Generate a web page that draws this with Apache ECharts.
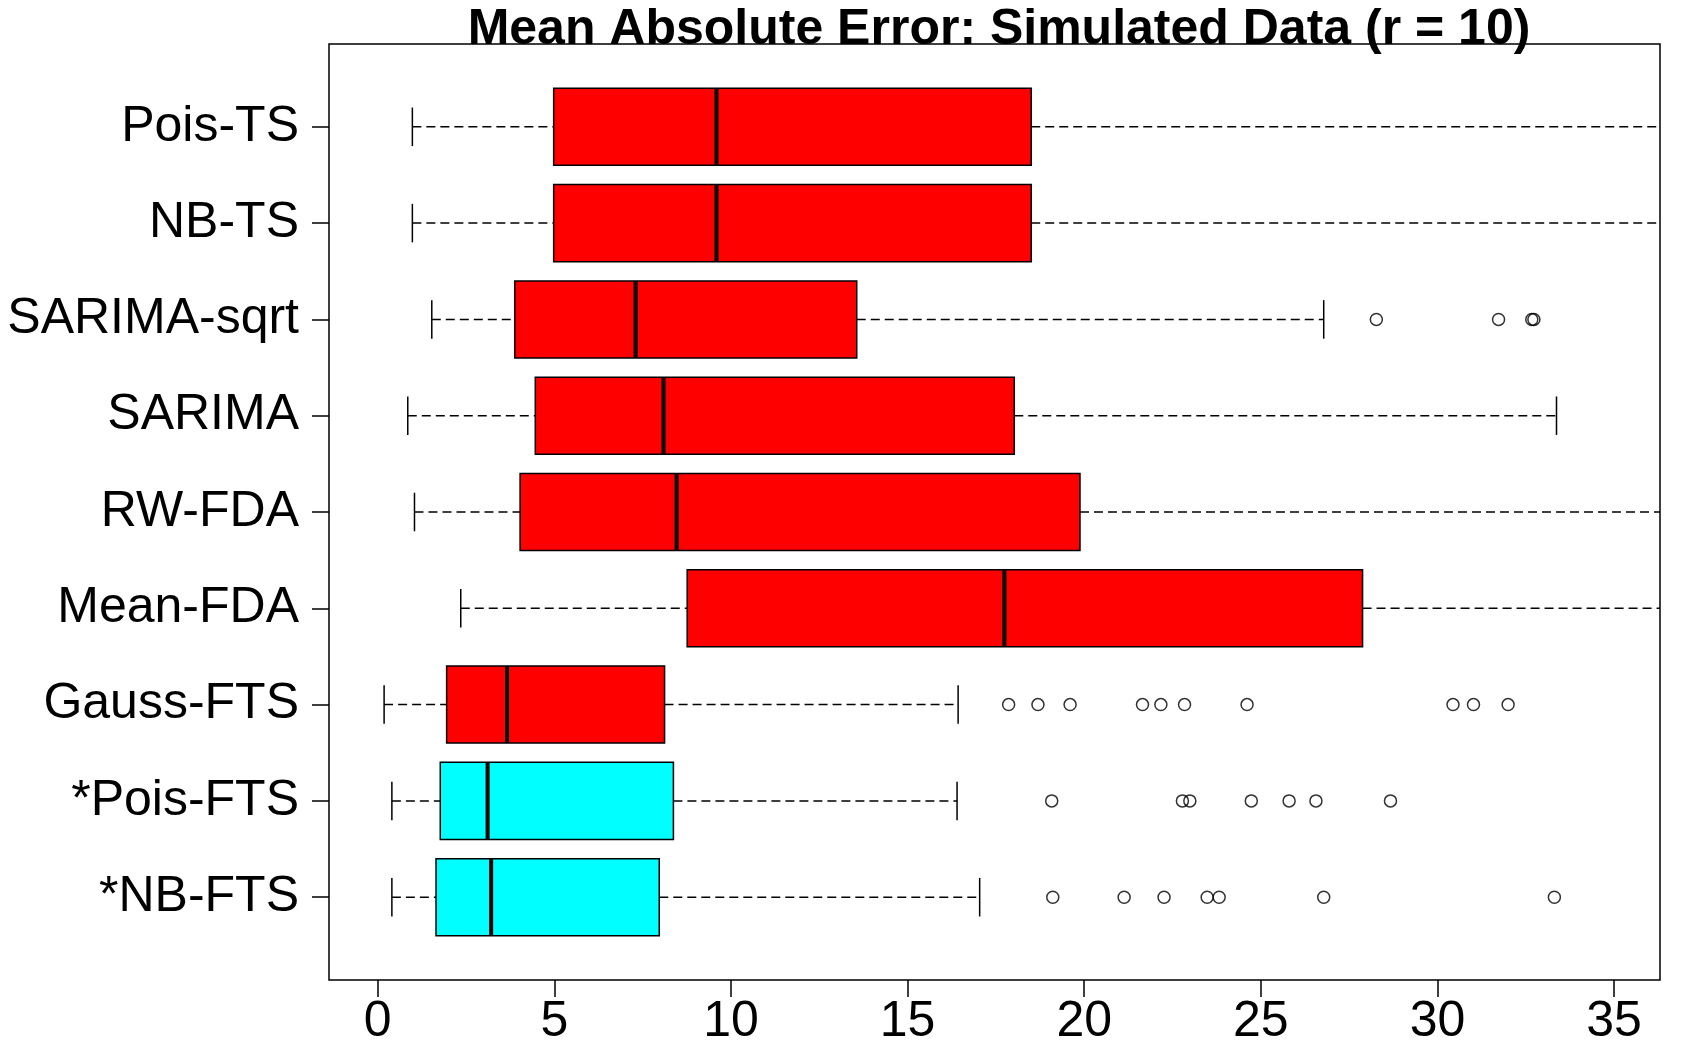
<!DOCTYPE html>
<html>
<head>
<meta charset="utf-8">
<script src="https://cdn.jsdelivr.net/npm/echarts@6/dist/echarts.min.js"></script>
<style>
  html, body { margin: 0; padding: 0; background: #fff; }
  #chart { width: 1692px; height: 1058px; }
</style>
</head>
<body>
<div id="chart"></div>
<script>
  // methods from bottom (position 1) to top (position 9)
  const methods = ['*NB-FTS', '*Pois-FTS', 'Gauss-FTS', 'Mean-FDA', 'RW-FDA', 'SARIMA', 'SARIMA-sqrt', 'NB-TS', 'Pois-TS']
  // [lower whisker, Q1, median, Q3, upper whisker]
  const boxStats = [
    [0.40, 1.65, 3.21, 7.97, 17.04],
    [0.40, 1.77, 3.11, 8.37, 16.40],
    [0.18, 1.95, 3.66, 8.12, 16.43],
    [2.35, 8.76, 17.74, 27.88, 40.0],
    [1.04, 4.03, 8.46, 19.88, 40.0],
    [0.85, 4.46, 8.09, 18.02, 33.37],
    [1.53, 3.88, 7.30, 13.56, 26.78],
    [0.98, 4.98, 9.59, 18.50, 40.0],
    [0.98, 4.98, 9.59, 18.50, 40.0]
  ]
  const outNbFts = [19.11, 21.13, 22.26, 23.48, 23.82, 26.78, 33.31]
  const outPoisFts = [19.08, 22.78, 22.99, 24.73, 25.80, 26.56, 28.67]
  const outGaussFts = [17.86, 18.69, 19.60, 21.65, 22.17, 22.84, 24.61, 30.44, 31.02, 32.00]
  const outSarimaSqrt = [28.27, 31.73, 32.67, 32.73]
  const xTicks = [0, 5, 10, 15, 20, 25, 30, 35]
  const yTicks = [1, 2, 3, 4, 5, 6, 7, 8, 9]

  const outlierData = []
  ;[[1, outNbFts], [2, outPoisFts], [3, outGaussFts], [7, outSarimaSqrt]].forEach(([pos, arr]) => {
    arr.forEach(v => outlierData.push([v, pos]))
  })

  const boxData = boxStats.map((s, i) => [i + 1].concat(s))

  const font = "'Liberation Sans', Arial, sans-serif"
  let myChart = echarts.init(document.getElementById('chart'))
  myChart.setOption({
    animation: false,
    backgroundColor: '#fff',
    title: {
      text: 'Mean Absolute Error: Simulated Data (r = 10)',
      left: 994,
      top: 0,
      textAlign: 'center',
      textStyle: {
        color: '#000',
        fontFamily: font,
        fontWeight: 'bold',
        fontSize: 50
      }
    },
    grid: {
      show: true,
      left: 329,
      right: 32,
      top: 44,
      bottom: 78,
      borderColor: '#000',
      borderWidth: 1.5,
      backgroundColor: 'transparent'
    },
    xAxis: {
      type: 'value',
      min: -1.38,
      max: 36.3,
      splitLine: { show: false },
      axisLine: { show: false, onZero: false },
      axisTick: {
        show: true,
        customValues: xTicks,
        length: 17,
        lineStyle: { color: '#000', width: 1.5 }
      },
      axisLabel: {
        customValues: xTicks,
        margin: 17,
        color: '#000',
        fontFamily: font,
        fontSize: 50
      }
    },
    yAxis: {
      type: 'value',
      min: 0.14,
      max: 9.86,
      splitLine: { show: false },
      axisLine: { show: false, onZero: false },
      axisTick: {
        show: true,
        customValues: yTicks,
        length: 17,
        lineStyle: { color: '#000', width: 1.5 }
      },
      axisLabel: {
        customValues: yTicks,
        margin: 30,
        padding: [6, 0, 0, 0],
        color: '#000',
        fontFamily: font,
        fontSize: 50,
        formatter: function (v) {
          return methods[Math.round(v) - 1]
        }
      }
    },
    series: [{
      type: 'custom',
      clip: true,
      data: boxData,
      encode: { x: [1, 2, 3, 4, 5], y: 0 },
      renderItem: function (params, api) {
        const pos = api.value(0)
        const pLo = api.coord([api.value(1), pos])
        const pQ1 = api.coord([api.value(2), pos])
        const pMed = api.coord([api.value(3), pos])
        const pQ3 = api.coord([api.value(4), pos])
        const pHi = api.coord([api.value(5), pos])
        const h = api.size([0, 0.8])[1]
        const y = pLo[1]
        const color = methods[params.dataIndex].charAt(0) === '*' ? '#00FFFF' : '#FF0000'
        const dash = { stroke: '#000', lineWidth: 1.5, lineDash: [9, 5] }
        const solid = { stroke: '#000', lineWidth: 1.5 }
        return {
          type: 'group',
          children: [
            { type: 'line', shape: { x1: pLo[0], y1: y, x2: pQ1[0], y2: y }, style: dash },
            { type: 'line', shape: { x1: pQ3[0], y1: y, x2: pHi[0], y2: y }, style: dash },
            { type: 'line', shape: { x1: pLo[0], y1: y - h / 4, x2: pLo[0], y2: y + h / 4 }, style: solid },
            { type: 'line', shape: { x1: pHi[0], y1: y - h / 4, x2: pHi[0], y2: y + h / 4 }, style: solid },
            {
              type: 'rect',
              shape: { x: pQ1[0], y: y - h / 2, width: pQ3[0] - pQ1[0], height: h },
              style: { fill: color, stroke: '#000', lineWidth: 1.5 }
            },
            { type: 'line', shape: { x1: pMed[0], y1: y - h / 2, x2: pMed[0], y2: y + h / 2 }, style: { stroke: '#000', lineWidth: 4 } }
          ]
        }
      }
    }, {
      type: 'scatter',
      data: outlierData,
      symbol: 'circle',
      symbolSize: 12,
      itemStyle: {
        color: 'rgba(0,0,0,0)',
        borderColor: '#000',
        borderWidth: 1.5
      }
    }]
  })
</script>
</body>
</html>
